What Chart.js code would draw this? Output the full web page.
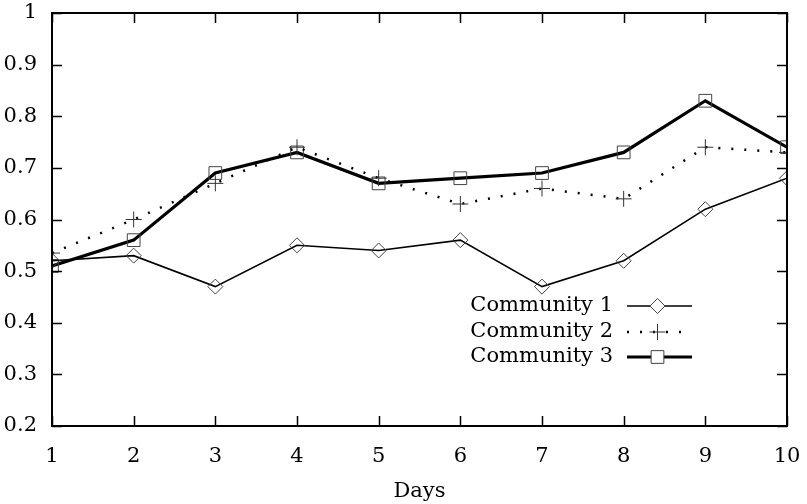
<!DOCTYPE html>
<html>
<head>
<meta charset="utf-8">
<script src="https://cdn.jsdelivr.net/npm/chart.js@4"></script>
<style>
  html, body { margin: 0; padding: 0; background: #fff; }
  #wrap { width: 807px; height: 504px; }
</style>
</head>
<body>
<div id="wrap"><canvas id="canvas" width="807" height="504"></canvas></div>
<script>
  'use strict'

  var days = [1, 2, 3, 4, 5, 6, 7, 8, 9, 10]
  var community1 = [0.52, 0.53, 0.47, 0.55, 0.54, 0.56, 0.47, 0.52, 0.62, 0.68]
  var community2 = [0.535, 0.60, 0.67, 0.74, 0.68, 0.63, 0.66, 0.64, 0.74, 0.73]
  var community3 = [0.51, 0.56, 0.69, 0.73, 0.67, 0.68, 0.69, 0.73, 0.83, 0.74]
  var yTicks = [0.2, 0.3, 0.4, 0.5, 0.6, 0.7, 0.8, 0.9, 1]

  var FONT = '"DejaVu Serif", "Liberation Serif", serif'
  var FSIZE = 21

  function points (values) {
    return values.map(function (v, i) { return { x: days[i], y: v } })
  }

  // inward tick marks on all four sides + gnuplot-style legend
  var gnuplotLook = {
    id: 'gnuplotLook',
    afterDraw: function (chart) {
      var ctx = chart.ctx
      var a = chart.chartArea
      var xs = chart.scales.x
      var ys = chart.scales.y
      var len = 10
      ctx.save()
      ctx.strokeStyle = '#000'
      ctx.lineWidth = 1.5
      ctx.beginPath()
      days.forEach(function (d) {
        var px = Math.round(xs.getPixelForValue(d)) + 0.5
        ctx.moveTo(px, a.bottom); ctx.lineTo(px, a.bottom - len)
        ctx.moveTo(px, a.top); ctx.lineTo(px, a.top + len)
      })
      yTicks.forEach(function (t) {
        var py = Math.round(ys.getPixelForValue(t)) + 0.5
        ctx.moveTo(a.left, py); ctx.lineTo(a.left + len, py)
        ctx.moveTo(a.right, py); ctx.lineTo(a.right - len, py)
      })
      ctx.stroke()
      ctx.lineWidth = 2
      ctx.strokeRect(a.left, a.top, a.right - a.left, a.bottom - a.top)

      // legend
      var textRight = 613
      var lineL = 627
      var lineR = 692
      var rowY = [306, 332, 357]
      ctx.font = FSIZE + 'px ' + FONT
      ctx.textAlign = 'right'
      ctx.textBaseline = 'middle'
      chart.data.datasets.forEach(function (ds, i) {
        var y = rowY[i]
        ctx.fillStyle = '#000'
        ctx.fillText(ds.label, textRight, y)
        ctx.save()
        ctx.strokeStyle = ds.borderColor
        ctx.lineWidth = ds.borderWidth
        ctx.setLineDash(ds.borderDash || [])
        ctx.beginPath()
        ctx.moveTo(lineL, y); ctx.lineTo(lineR, y)
        ctx.stroke()
        ctx.restore()
        ctx.save()
        ctx.fillStyle = '#fff'
        ctx.strokeStyle = ds.pointBorderColor
        ctx.lineWidth = ds.pointBorderWidth
        Chart.helpers.drawPoint(ctx, {
          pointStyle: ds.pointStyle,
          radius: ds.pointRadius,
          borderWidth: ds.pointBorderWidth,
          rotation: 0
        }, (lineL + lineR) / 2 - 2, y)
        ctx.restore()
      })
      ctx.restore()
    }
  }

  var context = document.getElementById('canvas').getContext('2d')
  new Chart(context, {
    type: 'line',
    data: {
      datasets: [{
        label: 'Community 1',
        data: points(community1),
        borderColor: '#000',
        borderWidth: 1.6,
        pointStyle: 'rectRot',
        pointRadius: 7.5,
        pointBorderWidth: 1,
        pointBorderColor: '#444',
        pointBackgroundColor: 'rgba(0,0,0,0)',
        fill: false,
        tension: 0
      }, {
        label: 'Community 2',
        data: points(community2),
        borderColor: '#000',
        borderWidth: 2.5,
        borderDash: [2, 11],
        pointStyle: 'cross',
        pointRadius: 8,
        pointBorderWidth: 1,
        pointBorderColor: '#333',
        fill: false,
        tension: 0
      }, {
        label: 'Community 3',
        data: points(community3),
        borderColor: '#000',
        borderWidth: 3.2,
        pointStyle: 'rect',
        pointRadius: 9,
        pointBorderWidth: 1,
        pointBorderColor: '#444',
        pointBackgroundColor: 'rgba(0,0,0,0)',
        fill: false,
        tension: 0
      }]
    },
    options: {
      responsive: false,
      animation: false,
      layout: { padding: { top: 13, right: 20, left: 0, bottom: 0 } },
      plugins: {
        legend: { display: false },
        tooltip: { enabled: false }
      },
      elements: { point: { backgroundColor: 'rgba(0,0,0,0)' } },
      scales: {
        x: {
          type: 'linear',
          min: 1,
          max: 10,
          afterBuildTicks: function (s) { s.ticks = days.map(function (d) { return { value: d } }) },
          afterFit: function (s) {
            s.height = 78
            s.paddingLeft = 0
            s.paddingRight = 0
          },
          grid: { display: false, drawTicks: false },
          border: { display: false },
          ticks: { color: '#000', padding: 18, font: { family: FONT, size: FSIZE } },
          title: { display: true, text: 'Days', color: '#000', padding: { top: 12, bottom: 0 }, font: { family: FONT, size: FSIZE } }
        },
        y: {
          type: 'linear',
          min: 0.2,
          max: 1,
          afterBuildTicks: function (s) { s.ticks = yTicks.map(function (t) { return { value: t } }) },
          afterFit: function (s) {
            s.width = 52
            s.paddingTop = 0
            s.paddingBottom = 0
          },
          grid: { display: false, drawTicks: false },
          border: { display: false },
          ticks: {
            color: '#000',
            padding: 15,
            font: { family: FONT, size: FSIZE },
            callback: function (v) { return String(Math.round(v * 10) / 10) }
          }
        }
      }
    },
    plugins: [gnuplotLook]
  })
</script>
</body>
</html>
